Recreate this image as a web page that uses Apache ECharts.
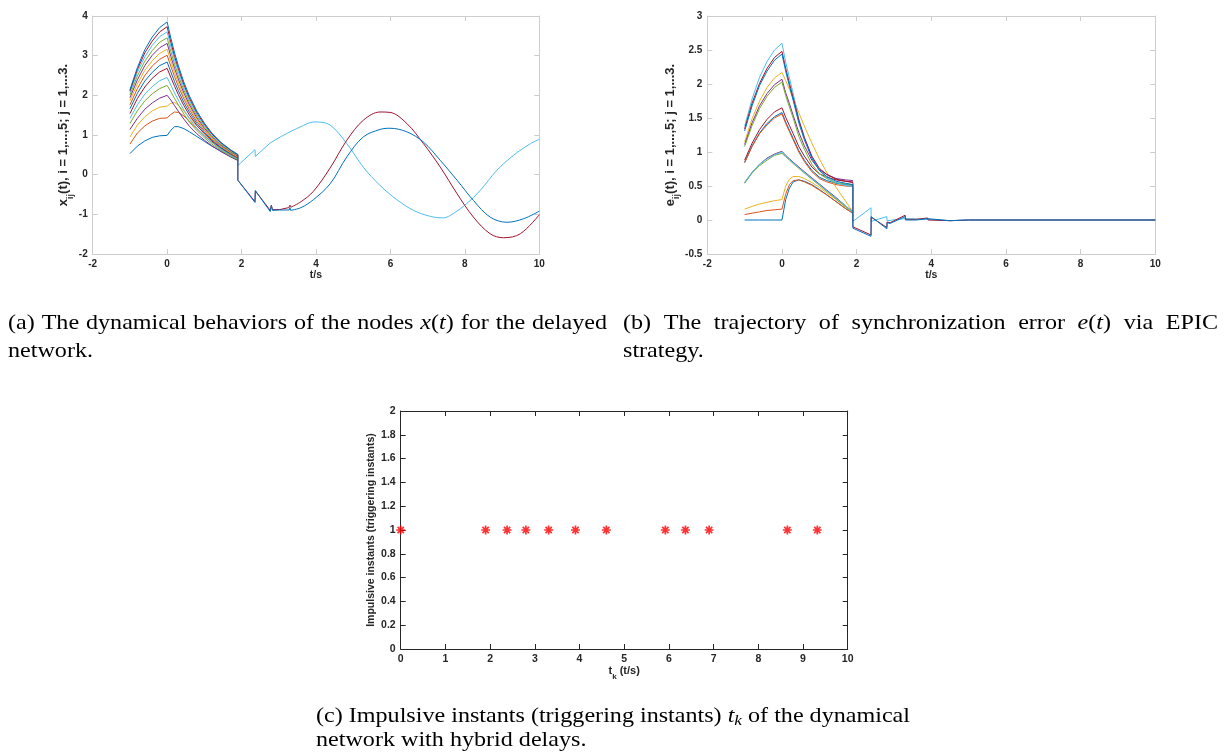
<!DOCTYPE html>
<html><head><meta charset="utf-8">
<script src="https://cdn.jsdelivr.net/npm/echarts@6/dist/echarts.min.js"></script>
<style>html,body{margin:0;padding:0;background:#fff}#c{width:1227px;height:753px}</style>
</head><body><div id="c"></div>
<script>
// ---------- DATA ----------
const COLORS = ['#0072BD','#D95319','#EDB120','#7E2F8E','#77AC30','#4DBEEE','#A2142F'];
// time grid of the pre-switch phase (both panels a and b)
const T_PRE = [-1,-0.8,-0.6,-0.4,-0.2,0,0.1,0.2,0.3,0.45,0.6,0.8,1.0,1.2,1.45,1.7,1.9];
// panel (a): x_ij(t), series 1..15
const X_PRE = [
 [0.53,0.72,0.85,0.94,0.98,0.99, 1.12,1.21,1.21,1.16,1.08,0.96,0.84,0.72,0.59,0.46,0.36],
 [0.77,1.05,1.23,1.35,1.42,1.43, 1.52,1.58,1.57,1.48,1.35,1.16,0.98,0.82,0.64,0.49,0.38],
 [0.95,1.25,1.46,1.61,1.70,1.73, 1.80,1.82,1.75,1.60,1.44,1.23,1.04,0.86,0.67,0.51,0.39],
 [1.14,1.42,1.65,1.81,1.93,2.00, 1.88,1.74,1.60,1.40,1.22,1.03,0.87,0.73,0.58,0.45,0.36],
 [1.29,1.61,1.86,2.04,2.17,2.25, 2.09,1.92,1.76,1.53,1.32,1.11,0.93,0.77,0.61,0.47,0.38],
 [1.42,1.76,2.03,2.22,2.37,2.45, 2.26,2.06,1.88,1.63,1.41,1.17,0.97,0.81,0.64,0.49,0.40],
 [1.54,1.92,2.21,2.43,2.59,2.68, 2.45,2.23,2.02,1.74,1.50,1.24,1.03,0.85,0.67,0.52,0.42],
 [1.66,2.05,2.36,2.58,2.75,2.84, 2.59,2.34,2.12,1.82,1.57,1.29,1.07,0.88,0.68,0.53,0.43],
 [1.76,2.17,2.50,2.74,2.91,3.01, 2.73,2.47,2.23,1.91,1.64,1.34,1.11,0.91,0.71,0.55,0.44],
 [1.86,2.29,2.63,2.87,3.06,3.16, 2.86,2.57,2.32,1.98,1.70,1.39,1.14,0.93,0.72,0.56,0.45],
 [1.94,2.39,2.75,3.01,3.20,3.31, 2.98,2.68,2.41,2.06,1.76,1.43,1.17,0.96,0.74,0.58,0.47],
 [2.01,2.49,2.86,3.13,3.34,3.45, 3.10,2.78,2.50,2.13,1.82,1.48,1.21,0.98,0.76,0.59,0.48],
 [2.07,2.58,2.97,3.26,3.48,3.60, 3.23,2.89,2.60,2.20,1.88,1.52,1.24,1.01,0.78,0.61,0.49],
 [2.11,2.65,3.07,3.37,3.60,3.73, 3.34,2.98,2.68,2.27,1.93,1.56,1.27,1.03,0.80,0.62,0.50],
 [2.14,2.70,3.15,3.47,3.71,3.85, 3.44,3.07,2.75,2.33,1.98,1.60,1.30,1.05,0.81,0.63,0.51]
];
// panel (a) after the switch: the three synchronized groups [t, x]
const X_POST_J1 = [[1.9,0.23],[2.36,0.63],[2.37,0.46],[2.77,0.80],[2.8,0.77],[3.04,0.95],[3.48,1.16],[3.98,1.33],[4.38,1.25],[4.83,0.78],[5.27,0.19],[5.72,-0.27],[6.17,-0.63],[6.62,-0.90],[7.07,-1.05],[7.42,-1.09],[7.69,-0.98],[8.05,-0.73],[8.41,-0.40],[8.86,0.11],[9.31,0.49],[9.76,0.78],[10,0.89]];
const X_POST_J2 = [[1.9,-0.14],[2.36,-0.68],[2.37,-0.41],[2.77,-0.90],[2.8,-0.77],[2.83,-0.88],[3.03,-0.88],[3.27,-0.83],[3.3,-0.77],[3.33,-0.82],[3.6,-0.68],[3.93,-0.42],[4.38,0.17],[4.83,0.87],[5.27,1.37],[5.72,1.58],[5.99,1.57],[6.44,1.29],[6.89,0.78],[7.34,0.19],[7.79,-0.48],[8.23,-1.07],[8.68,-1.49],[9.04,-1.59],[9.49,-1.49],[10,-1.01]];
const X_POST_J3 = [[1.9,-0.14],[2.36,-0.70],[2.37,-0.40],[2.77,-0.93],[2.8,-0.78],[2.83,-0.90],[3.03,-0.89],[3.28,-0.89],[3.3,-0.83],[3.32,-0.90],[3.6,-0.83],[3.93,-0.63],[4.38,-0.23],[4.83,0.45],[5.27,0.95],[5.72,1.14],[5.99,1.17],[6.44,1.08],[6.89,0.82],[7.34,0.36],[7.79,-0.14],[8.23,-0.65],[8.68,-1.07],[9.13,-1.20],[9.58,-1.11],[10,-0.92]];
// panel (b): e_ij(t), series 1..15
const E_PRE = [
 [0,0,0,0,0,0, 0.30,0.47,0.56,0.59,0.57,0.52,0.45,0.37,0.27,0.17,0.10],
 [0.08,0.10,0.12,0.14,0.15,0.16, 0.38,0.52,0.58,0.59,0.56,0.51,0.44,0.37,0.27,0.17,0.10],
 [0.16,0.20,0.235,0.26,0.285,0.30, 0.50,0.60,0.64,0.64,0.61,0.55,0.48,0.40,0.30,0.19,0.11],
 [0.55,0.70,0.82,0.91,0.97,1.01, 0.95,0.90,0.85,0.78,0.71,0.62,0.53,0.44,0.33,0.21,0.12],
 [0.54,0.69,0.80,0.88,0.95,0.98, 0.93,0.88,0.83,0.76,0.69,0.60,0.51,0.42,0.31,0.20,0.11],
 [0.55,0.70,0.82,0.90,0.96,1.00, 0.94,0.89,0.84,0.77,0.70,0.61,0.52,0.43,0.32,0.21,0.11],
 [0.88,1.13,1.33,1.48,1.59,1.65, 1.51,1.39,1.27,1.08,0.94,0.78,0.68,0.63,0.59,0.57,0.56],
 [0.85,1.09,1.28,1.42,1.52,1.58, 1.44,1.32,1.20,1.02,0.88,0.73,0.63,0.58,0.54,0.52,0.51],
 [0.84,1.08,1.27,1.40,1.50,1.56, 1.42,1.30,1.18,1.00,0.86,0.71,0.61,0.56,0.52,0.50,0.49],
 [1.15,1.49,1.75,1.95,2.09,2.17, 2.05,1.92,1.79,1.58,1.38,1.13,0.90,0.70,0.48,0.28,0.12],
 [1.11,1.43,1.68,1.86,1.99,2.07, 1.87,1.71,1.54,1.29,1.09,0.88,0.74,0.67,0.61,0.59,0.58],
 [1.08,1.39,1.64,1.82,1.95,2.03, 1.83,1.66,1.50,1.23,1.04,0.82,0.68,0.61,0.55,0.53,0.52],
 [1.38,1.78,2.10,2.33,2.50,2.60, 2.32,2.09,1.86,1.49,1.22,0.92,0.73,0.62,0.55,0.51,0.49],
 [1.34,1.72,2.01,2.23,2.39,2.48, 2.23,2.01,1.80,1.47,1.21,0.94,0.76,0.67,0.60,0.57,0.55],
 [1.31,1.68,1.98,2.19,2.35,2.44, 2.19,1.97,1.76,1.43,1.18,0.91,0.73,0.64,0.57,0.54,0.52]
];
const E_POST_J1 = [[1.9,-0.02],[2.385,0.18],[2.39,-0.02],[2.81,0.05],[2.815,-0.01],[3.3,0.02],[3.31,0.0],[3.9,0.01],[4.5,-0.01],[5.0,0.0],[10,0]];
const E_POST_J2 = [[1.9,-0.10],[2.385,-0.22],[2.39,0.04],[2.81,-0.11],[2.815,-0.03],[2.9,-0.04],[3.3,0.07],[3.31,0.01],[3.6,0.01],[3.9,0.03],[3.91,0.0],[4.5,-0.01],[5.0,0.0],[10,0]];
const E_POST_J3 = [[1.9,-0.12],[2.385,-0.24],[2.39,0.05],[2.81,-0.13],[2.815,-0.04],[2.9,-0.05],[3.3,0.05],[3.31,0.0],[3.6,0.0],[3.9,0.02],[3.91,0.0],[4.5,-0.01],[5.0,0.0],[10,0]];
// panel (c): impulsive (triggering) instants
const TK = [0,1.9,2.38,2.8,3.31,3.91,4.6,5.92,6.37,6.9,8.65,9.32];
const TK_LEVEL = 1;

// ---------- CHART ----------
const chart = echarts.init(document.getElementById('c'), null, {renderer:'canvas'});
const SANS = '"Liberation Sans", Arial, sans-serif';
const SERIF = '"Liberation Serif", "Times New Roman", serif';
const TXT = '#262626';
const LIGHT = '#cdcdcd';

function mkX(grid, min, max, interval, color, name, nameGap, rich, lfs){
  return [{
    type:'value', gridIndex:grid, position:'bottom', min, max, interval,
    axisLine:{show:true,onZero:false,lineStyle:{color,width:1}},
    axisTick:{show:true,inside:true,length:5,lineStyle:{color}},
    axisLabel:{color:TXT,fontFamily:SANS,fontWeight:'bold',fontSize:lfs,margin:5},
    splitLine:{show:false},
    name, nameLocation:'middle', nameGap, nameTextStyle:{rich}
  },{
    type:'value', gridIndex:grid, position:'top', min, max, interval,
    axisLine:{show:true,onZero:false,lineStyle:{color,width:1}},
    axisTick:{show:true,inside:true,length:5,lineStyle:{color}},
    axisLabel:{show:false}, splitLine:{show:false}
  }];
}
function mkY(grid, min, max, interval, color, name, nameGap, rich, fmt, lfs){
  return [{
    type:'value', gridIndex:grid, position:'left', min, max, interval,
    axisLine:{show:true,onZero:false,lineStyle:{color,width:1}},
    axisTick:{show:true,inside:true,length:5,lineStyle:{color}},
    axisLabel:{color:TXT,fontFamily:SANS,fontWeight:'bold',fontSize:lfs,margin:5,formatter:fmt},
    splitLine:{show:false},
    name, nameLocation:'middle', nameGap, nameRotate:90, nameTextStyle:{rich}
  },{
    type:'value', gridIndex:grid, position:'right', min, max, interval,
    axisLine:{show:true,onZero:false,lineStyle:{color,width:1}},
    axisTick:{show:true,inside:true,length:5,lineStyle:{color}},
    axisLabel:{show:false}, splitLine:{show:false}
  }];
}
function richOf(fs, sfs, lh){
  return {
    a:{color:TXT,fontFamily:SANS,fontWeight:'bold',fontSize:fs,lineHeight:lh},
    s:{color:TXT,fontFamily:SANS,fontWeight:'bold',fontSize:sfs,lineHeight:lh,verticalAlign:'bottom'}
  };
}
const richBig = richOf(13, 9, 22);
const richMid = richOf(10.5, 7.5, 18);
const richC = richOf(11, 8, 19);
const fmt1 = v => String(Math.round(v*10)/10);

const xAxis = [].concat(
  mkX(0,-2,10,2,LIGHT,'{a|t/s}',12,richMid,10),
  mkX(1,-2,10,2,LIGHT,'{a|t/s}',12,richMid,10),
  mkX(2,0,10,1,TXT,'{a|t}{s|k}{a| (t/s)}',7,richC,10.5)
);
const yAxis = [].concat(
  mkY(0,-2,4,1,LIGHT,'{a|x}{s|ij}{a|(t), i = 1,...,5; j = 1,...3.}',17,richBig,fmt1,10),
  mkY(1,-0.5,3,0.5,LIGHT,'{a|e}{s|ij}{a|(t), i = 1,...,5; j = 1,...3.}',21,richBig,fmt1,10),
  mkY(2,0,2,0.2,TXT,'{a|Impulsive instants (triggering instants)}',21,richMid,fmt1,10.5)
);

const series = [];
function lineSeries(ax, data, color, smooth){
  return {type:'line', xAxisIndex:ax, yAxisIndex:ax, data, symbol:'none', showSymbol:false,
    lineStyle:{color, width:1}, smooth: smooth||false, animation:false, silent:true, z:2};
}
const xPost = {12:X_POST_J1, 13:X_POST_J2, 14:X_POST_J3};
const ePost = {12:E_POST_J1, 13:E_POST_J2, 14:E_POST_J3};
const smoothParts = [];
for (let k=0;k<15;k++){
  const c = COLORS[k%7];
  let d = T_PRE.map((t,i)=>[t, X_PRE[k][i]]);
  if (xPost[k]){
    const p = xPost[k];
    const jag = p.filter(q=>q[0]<=3.4);
    d = d.concat(jag);
    smoothParts.push(lineSeries(0, [jag[jag.length-1]].concat(p.filter(q=>q[0]>3.4)), c, 0.35));
  }
  series.push(lineSeries(0, d, c));
}
smoothParts.forEach(s=>series.push(s));
for (let k=0;k<15;k++){
  const c = COLORS[k%7];
  let d = T_PRE.map((t,i)=>[t, E_PRE[k][i]]);
  if (ePost[k]) d = d.concat(ePost[k]);
  series.push(lineSeries(2, d, c));
}
series.push({
  type:'scatter', xAxisIndex:4, yAxisIndex:4, data: TK.map(t=>[t,TK_LEVEL]),
  symbol:'path://M5,0L5,10M0,5L10,5M1.5,1.5L8.5,8.5M1.5,8.5L8.5,1.5', symbolSize:9,
  itemStyle:{color:'rgba(0,0,0,0)', borderColor:'#ff0000', borderWidth:1.7},
  clip:false, animation:false, silent:true, z:5
});

// ---------- CAPTIONS ----------
const FS = 21;
const SUBFS = 15;
const mctx = document.createElement('canvas').getContext('2d');
function tw(t, it, fs){ mctx.font = (it?'italic ':'') + fs + 'px ' + SERIF; return mctx.measureText(t).width; }
function partW(p){ return tw(p.t, p.i, p.sub?SUBFS:FS); }
function wordW(w){ return w.reduce((s,p)=>s+partW(p),0); }
function W(s){ return [{t:s}]; }
const xt = [{t:'x',i:true},{t:'('},{t:'t',i:true},{t:')'}];
const et = [{t:'e',i:true},{t:'('},{t:'t',i:true},{t:')'}];
const tk = [{t:'t',i:true},{t:'k',i:true,sub:true}];
const A1 = ['(a)','The','dynamical','behaviors','of','the','nodes'].map(W).concat([xt],['for','the','delayed'].map(W));
const B1 = ['(b)','The','trajectory','of','synchronization','error'].map(W).concat([et],['via','EPIC'].map(W));
const C1 = ['(c)','Impulsive','instants','(triggering','instants)'].map(W).concat([tk],['of','the','dynamical'].map(W));
const SP = tw(' ',false,FS);
function naturalW(words){ return words.map(wordW).reduce((a,b)=>a+b,0) + SP*(words.length-1); }
const SX = 594 / naturalW(C1);   // horizontal scale of the caption font
const graphics = [];
function placeWord(w, x, y){
  for (const p of w){
    graphics.push({type:'text', x:x, y:y + (p.sub?5:0), scaleX:SX, silent:true,
      style:{text:p.t, font:(p.i?'italic ':'') + (p.sub?SUBFS:FS) + 'px ' + SERIF, fill:'#000', verticalAlign:'middle', align:'left'}});
    x += partW(p)*SX;
  }
}
function line(words, x0, x1, y, justify){
  const ws = words.map(w=>wordW(w)*SX);
  const total = ws.reduce((a,b)=>a+b,0);
  let gap = SP*SX;
  if (justify) gap = (x1-x0-total)/(words.length-1);
  let x = x0;
  words.forEach((w,i)=>{ placeWord(w, x, y); x += ws[i] + gap; });
}
line(A1, 8, 607, 323, true);
line([W('network.')], 8, 0, 351, false);
line(B1, 623, 1218, 323, true);
line([W('strategy.')], 623, 0, 351, false);
line(C1, 316, 910, 716, true);
line(['network','with','hybrid','delays.'].map(W), 316, 0, 740, false);

chart.setOption({
  animation:false,
  backgroundColor:'#ffffff',
  grid:[
    {left:92.7, top:16, width:446.6, height:238},
    {left:707.3, top:16, width:448, height:238},
    {left:400.7, top:411, width:447, height:238}
  ],
  xAxis, yAxis, series, graphic: graphics
});
</script></body></html>
